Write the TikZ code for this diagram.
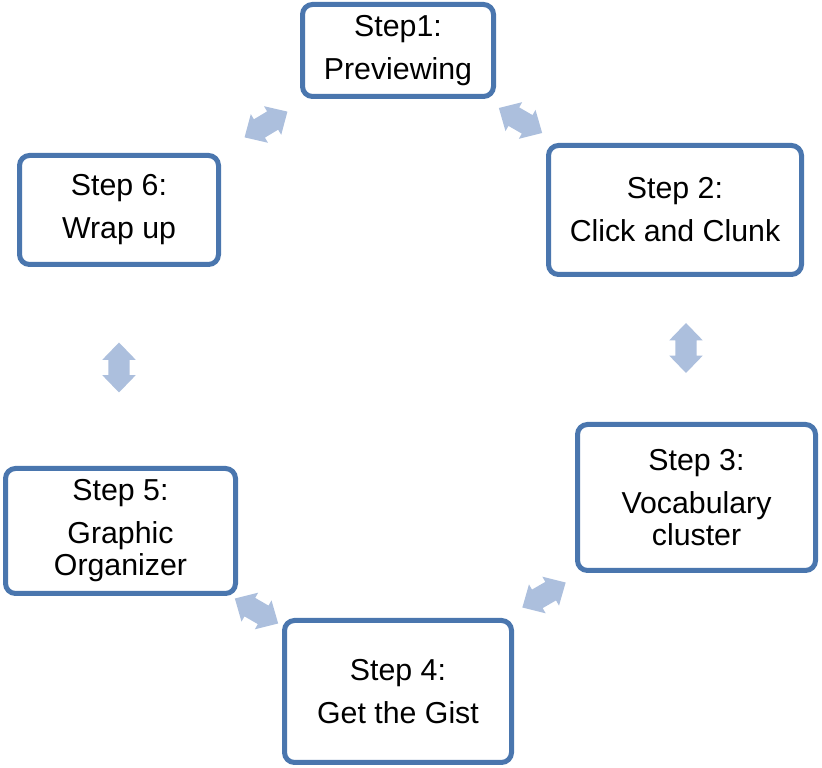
\documentclass[tikz,border=0pt]{standalone}
\usepackage{fontspec}
\setmainfont{Liberation Sans}
\usetikzlibrary{shapes.arrows}

\definecolor{stepblue}{RGB}{74,118,174}
\definecolor{linkblue}{RGB}{172,191,221}

\begin{document}
\begin{tikzpicture}[
    x=1pt, y=1pt,
    stepbox/.style={draw=stepblue, line width=5pt, rounded corners=10pt, fill=white,
        align=center, font=\fontsize{30.3}{32}\selectfont, inner sep=0pt},
    link/.style={double arrow, fill=linkblue, draw=none, inner xsep=0pt, inner ysep=10.5pt,
        minimum height=50pt, double arrow head extend=6pt,
        double arrow tip angle=88},
]

\useasboundingbox (0,0) rectangle (822,768);

% Steps around the cycle
\node[stepbox, minimum width=191pt, minimum height=92pt]  (s1) at (398,717.5) {Step1:\\[11pt]Previewing};
\node[stepbox, minimum width=253pt, minimum height=129pt] (s2) at (675,558)   {Step 2:\\[11pt]Click and Clunk};
\node[stepbox, minimum width=238pt, minimum height=146pt] (s3) at (696.5,270.5) {Step 3:\\[11pt]Vocabulary\\cluster};
\node[stepbox, minimum width=227pt, minimum height=142pt] (s4) at (398,76.5)  {Step 4:\\[11pt]Get the Gist};
\node[stepbox, minimum width=230pt, minimum height=125pt] (s5) at (120.5,237) {Step 5:\\[11pt]Graphic\\Organizer};
\node[stepbox, minimum width=199pt, minimum height=109pt] (s6) at (119,558)   {Step 6:\\[11pt]Wrap up};

% Two-way links between neighbours
\node[link, rotate=31]  (l61) at (266,643.5) {};
\node[link, rotate=-30] (l12) at (520.5,647.5) {};
\node[link, rotate=90]  (l23) at (686,420) {};
\node[link, rotate=30]  (l43) at (544,173) {};
\node[link, rotate=-30] (l54) at (256.5,157) {};
\node[link, rotate=90]  (l65) at (119,400.5) {};

\end{tikzpicture}
\end{document}
